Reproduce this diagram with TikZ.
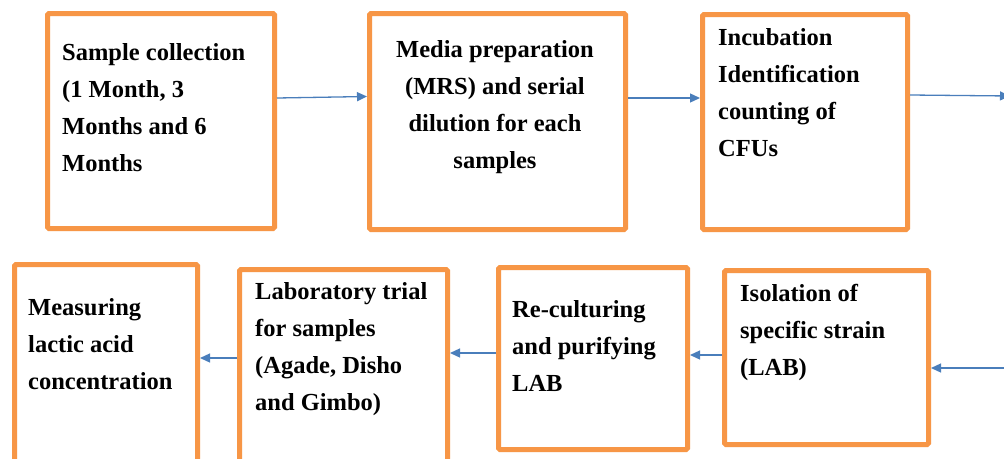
\documentclass[tikz,border=0pt]{standalone}
\usepackage{fontspec}
\setmainfont{Liberation Serif}
\usetikzlibrary{arrows.meta, positioning}
\definecolor{boxorange}{HTML}{F79646}
\definecolor{arrowblue}{HTML}{4A7EBB}
\tikzstyle{stage} = [draw=boxorange, line width=5pt, rounded corners=1.5pt, inner sep=0]
\tikzstyle{words} = [inner sep=0, font=\fontsize{24.5}{37}\selectfont\bfseries]
\tikzstyle{flow} = [draw=arrowblue, line width=1.3pt, -{Triangle[length=10pt, width=9pt]}]

\begin{document}
\begin{tikzpicture}[x=1pt, y=-1pt]
	\clip (0, 0) rectangle (1004, 458);
	\fill[white] (0, 0) rectangle (1004, 458);

	% top row
	\node (Collect) [stage, minimum width=227pt, minimum height=215pt] at (161, 121) {};
	\node (CollectText) [words, align=left, anchor=west] at (62, 107.5)
		{Sample collection\\(1 Month, 3\\Months and 6\\Months};

	\node (Media) [stage, minimum width=256pt, minimum height=216pt] at (497.5, 121.5) {};
	\node (MediaText) [words, align=center] at (495, 107.5)
		{Media preparation\\(MRS) and serial\\dilution for each\\samples};

	\node (Incubate) [stage, minimum width=205pt, minimum height=215pt] at (805, 122) {};
	\node (IncubateText) [words, align=left, anchor=west] at (718, 93)
		{Incubation\\Identification\\counting of\\CFUs};

	\coordinate (TopEdge) at (1010, 96);

	\draw [flow] ([yshift=23pt]Collect.east) -- ([yshift=25pt]Media.west);
	\draw [flow] ([yshift=23.5pt]Media.east) -- ([yshift=24pt]Incubate.west);
	\draw [flow] ([yshift=27pt]Incubate.east) -- (TopEdge);

	% bottom row
	\node (Isolate) [stage, minimum width=204pt, minimum height=174pt] at (826.5, 357.5) {};
	\node (IsolateText) [words, align=left, anchor=west] at (740, 332)
		{Isolation of\\specific strain\\(LAB)};

	\node (Reculture) [stage, minimum width=189pt, minimum height=182pt] at (593, 358.5) {};
	\node (RecultureText) [words, align=left, anchor=west] at (512, 346)
		{Re-culturing\\and purifying\\LAB};

	\node (Trial) [stage, minimum width=208pt, minimum height=198pt] at (343.5, 368.5) {};
	\node (TrialText) [words, align=left, anchor=west] at (255, 349)
		{Laboratory trial\\for samples\\(Agade, Disho\\and Gimbo)};

	\node (Measure) [stage, minimum width=183pt, minimum height=203pt] at (106, 366) {};
	\node (MeasureText) [words, align=left, anchor=west] at (28, 344)
		{Measuring\\lactic acid\\concentration};

	\coordinate (BottomEdge) at (1010, 368);

	\draw [flow] (BottomEdge) -- ([yshift=-10.5pt]Isolate.east);
	\draw [flow] ([yshift=2.5pt]Isolate.west) -- ([yshift=3.5pt]Reculture.east);
	\draw [flow] ([yshift=5.5pt]Reculture.west) -- ([yshift=15.5pt]Trial.east);
	\draw [flow] ([yshift=10.5pt]Trial.west) -- ([yshift=8pt]Measure.east);
\end{tikzpicture}
\end{document}
